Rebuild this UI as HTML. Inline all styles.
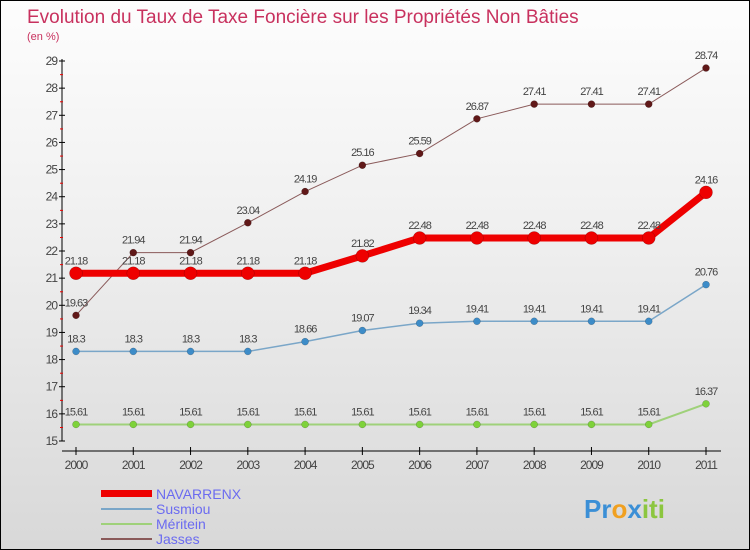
<!DOCTYPE html>
<html><head><meta charset="utf-8"><style>
body{margin:0;}
#wrap{position:relative;width:748px;height:548px;border:1px solid #000;background:linear-gradient(#fdfdfd,#f0f0f0 40%,#d8d8d8);font-family:"Liberation Sans",sans-serif;overflow:hidden}
svg{position:absolute;left:0;top:0}
</style></head><body>
<div id="wrap">
<svg id="c" width="750" height="550">
<text x="26" y="22" font-size="19" fill="#c8315e">Evolution du Taux de Taxe Foncière sur les Propriétés Non Bâties</text>
<text x="26" y="39" font-size="11" fill="#c8315e">(en %)</text>
<g id="axes"></g><g id="series"></g>
<g>
<rect x="100" y="489" width="51" height="7" fill="#e00"/>
<text x="155" y="498" font-size="14" fill="#6b6bf0">NAVARRENX</text>
<rect x="100" y="507" width="51" height="2" fill="#7aa6c8"/>
<text x="155" y="513" font-size="14" fill="#6b6bf0">Susmiou</text>
<rect x="100" y="522" width="51" height="2" fill="#9fd17a"/>
<text x="155" y="528" font-size="14" fill="#6b6bf0">Méritein</text>
<rect x="100" y="537" width="51" height="2" fill="#8a5a5a"/>
<text x="155" y="543" font-size="14" fill="#6b6bf0">Jasses</text>
</g>
<g font-size="26" font-weight="bold">
<text x="583" y="517"><tspan fill="#3b8fd6">Pr</tspan><tspan fill="#f0a020">o</tspan><tspan fill="#3b8fd6">x</tspan><tspan fill="#8cc63f">iti</tspan></text>
</g>
</svg>
</div>
<script>
const years=[2000,2001,2002,2003,2004,2005,2006,2007,2008,2009,2010,2011];
const yTicks=[15,16,17,18,19,20,21,22,23,24,25,26,27,28,29];
const navarrenx=[21.18,21.18,21.18,21.18,21.18,21.82,22.48,22.48,22.48,22.48,22.48,24.16];
const susmiou=[18.3,18.3,18.3,18.3,18.66,19.07,19.34,19.41,19.41,19.41,19.41,20.76];
const meritein=[15.61,15.61,15.61,15.61,15.61,15.61,15.61,15.61,15.61,15.61,15.61,16.37];
const jasses=[19.63,21.94,21.94,23.04,24.19,25.16,25.59,26.87,27.41,27.41,27.41,28.74];
const NS="http://www.w3.org/2000/svg";
const xs=i=>75+i*(630/11);
const ys=v=>440-(v-15)*(380/14);
function mk(t,a,p){const e=document.createElementNS(NS,t);for(const k in a)e.setAttribute(k,a[k]);p.appendChild(e);return e;}
const ax=document.getElementById('axes');
let yl=mk('line',{x1:61,y1:58,x2:61,y2:440,stroke:'#000'},ax);


let xl=mk('line',{x1:61,y1:450,x2:720,y2:450,stroke:'#000'},ax);


yTicks.forEach(v=>{const y=ys(v);
mk('line',{x1:58,y1:y,x2:64,y2:y,stroke:'#000'},ax);
if(v<29)mk('line',{x1:59,y1:y-13.5,x2:62,y2:y-13.5,stroke:'#e00'},ax);
const t=mk('text',{x:56,y:y+4,'font-size':12,fill:'#444','text-anchor':'end','letter-spacing':'-1'},ax);t.textContent=v;

});
years.forEach((yr,i)=>{const x=xs(i);
mk('line',{x1:x,y1:446,x2:x,y2:454,stroke:'#000'},ax);
const t=mk('text',{x:x,y:468,'font-size':12,fill:'#444','text-anchor':'middle','letter-spacing':'-1'},ax);t.textContent=yr;

});
const sg=document.getElementById('series');
function draw(name,vals,color,dot,lw,r){
const g=mk('g',{},sg);


const pts=vals.map((v,i)=>xs(i)+','+ys(v)).join(' ');
mk('polyline',{points:pts,fill:'none',stroke:color,'stroke-width':lw},g);
vals.forEach((v,i)=>{
const c=mk('circle',{cx:xs(i),cy:ys(v),r:r,fill:dot,stroke:'rgba(0,0,0,0.3)','stroke-width':0.5},g);


const t=mk('text',{x:xs(i),y:ys(v)-9,'font-size':11,fill:'#444','text-anchor':'middle','letter-spacing':'-1'},g);t.textContent=v;

});
}
draw('meritein',meritein,'#9fd17a','#7ed23a',2,3.5);
draw('susmiou',susmiou,'#7aa6c8','#3d8cc8',1.5,3.5);
draw('jasses',jasses,'#8a5a5a','#601818',1,3.5);
draw('navarrenx',navarrenx,'#ee0000','#ee0000',7,6.5);
</script>
</body></html>
